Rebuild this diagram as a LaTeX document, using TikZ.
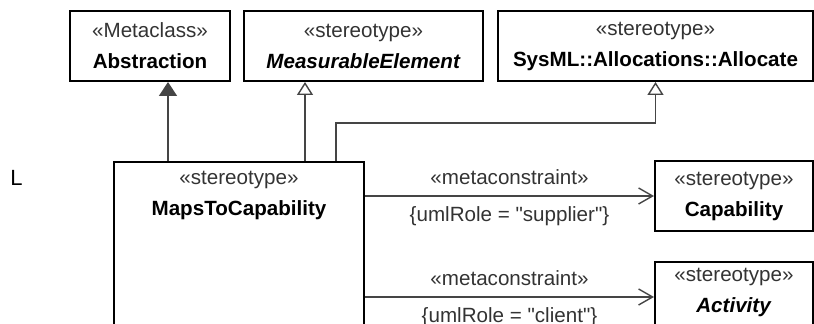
\documentclass[tikz,border=0pt]{standalone}
\usepackage{fontspec}
\setmainfont{Liberation Sans}
\newfontfamily\umlfont{Liberation Sans}
\usetikzlibrary{arrows.meta,positioning}
\definecolor{linegrey}{HTML}{454545}
\definecolor{stereogrey}{HTML}{333333}

\begin{document}
\begin{tikzpicture}[x=0.5pt, y=-0.5pt,
    font=\umlfont\fontsize{10.3pt}{15.5pt}\selectfont,
    umlbox/.style={rectangle, draw=black, line width=1pt, align=center, inner sep=0pt, minimum height=35pt, anchor=north west},
    extends/.style={draw=linegrey, line width=0.7pt, -{Triangle[width=9pt,length=7pt]}},
    general/.style={draw=linegrey, line width=0.7pt, -{Triangle[width=8pt,length=6.5pt,fill=white]}},
    metaline/.style={draw=linegrey, line width=0.7pt, -{Straight Barb[width=8pt,length=7pt]}},
    linklabel/.style={inner sep=0pt, text=stereogrey}]
      \useasboundingbox (0,0) rectangle (814,324);
      \clip (0,0) rectangle (814,324);

      \node (mark) [anchor=base west, inner sep=0pt, font=\umlfont\fontsize{11pt}{13pt}\selectfont] at (10,186) {L};

      \node (abs) [umlbox, minimum width=80pt] at (69,10)
        {\textcolor{stereogrey}{«Metaclass»}\\ \textbf{Abstraction}};
      \node (meas) [umlbox, minimum width=119.5pt] at (243,10)
        {\textcolor{stereogrey}{«stereotype»}\\ \textbf{\textit{MeasurableElement}}};
      \node (alloc) [umlbox, minimum width=157.5pt] at (497,10)
        {\textcolor{stereogrey}{«stereotype»}\\ \textbf{SysML::Allocations::Allocate}};

      \node (maps) [umlbox, minimum width=125pt, minimum height=100pt] at (113,161) {};
      \node (mapsname) [anchor=north, align=center, inner sep=0pt] at ([yshift=-5pt]maps.north)
        {\textcolor{stereogrey}{«stereotype»}\\ \textbf{MapsToCapability}};

      \node (cap) [umlbox, minimum width=79pt] at (654,160)
        {\textcolor{stereogrey}{«stereotype»}\\ \textbf{Capability}};
      \node (act) [umlbox, minimum width=79pt, text depth=7pt] at (654,261)
        {\textcolor{stereogrey}{«stereotype»}\\ \textbf{\textit{Activity}}};

      \draw[extends] ([xshift=-35.5pt]maps.north) -- ([xshift=-35.5pt]maps.north |- abs.south);
      \draw[general] ([xshift=33pt]maps.north) -- ([xshift=33pt]maps.north |- meas.south);
      \draw[general] ([xshift=48.5pt]maps.north) -- ++(0,-38) -| (alloc.south);

      \draw[metaline] (maps.east |- cap.west) --
        node[linklabel, above=5.5pt] {«metaconstraint»}
        node[linklabel, below=5pt] {\{umlRole = "supplier"\}} (cap.west);
      \draw[metaline] (maps.east |- act.west) --
        node[linklabel, above=5.5pt] {«metaconstraint»}
        node[linklabel, below=5pt] {\{umlRole = "client"\}} (act.west);
    \end{tikzpicture}
\end{document}
